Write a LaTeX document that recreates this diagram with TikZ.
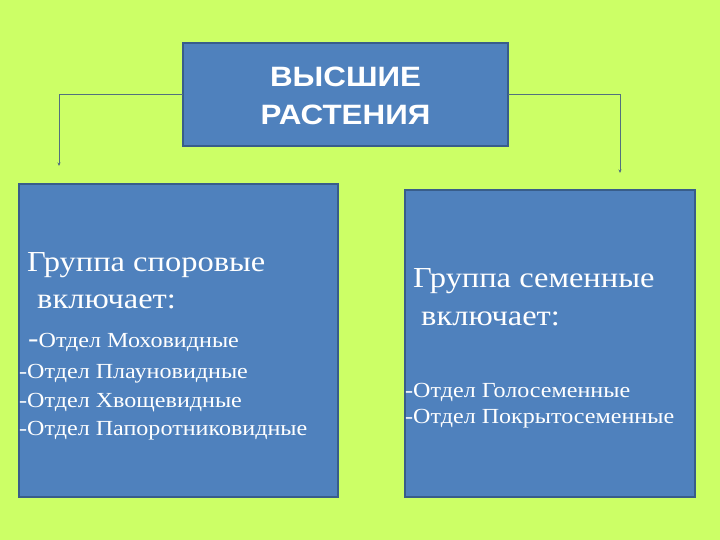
\documentclass[tikz,border=0pt]{standalone}
\usepackage{fontspec}
\setmainfont{Liberation Serif}
\newfontfamily\serifwide[FakeStretch=1.12]{Liberation Serif}
\newfontfamily\arialwide[FakeStretch=1.12]{Liberation Sans}
\usetikzlibrary{arrows.meta}
\definecolor{bgc}{HTML}{CCFF66}
\definecolor{boxfill}{HTML}{4F81BD}
\definecolor{boxline}{HTML}{385D8A}
\definecolor{conn}{HTML}{52707E}
\begin{document}
\begin{tikzpicture}[x=1pt,y=-1pt,
  box/.style={draw=boxline,line width=1.5pt,fill=boxfill},
  conline/.style={draw=conn,line width=0.9pt,-{Stealth[length=3.5pt,width=3pt]}},
  big/.style={anchor=base west,inner sep=0,text=white,font=\serifwide\fontsize{29}{32}\selectfont},
  small/.style={anchor=base west,inner sep=0,text=white,font=\serifwide\fontsize{21.5}{23}\selectfont}]
\fill[bgc] (0,0) rectangle (720,540);
\useasboundingbox (0,0) rectangle (720,540);
\draw[box] (183,43) rectangle (508,146);
\node[text=white,anchor=base,inner sep=0,font=\arialwide\bfseries\fontsize{28}{30}\selectfont] (t1) at (345.5,87) {ВЫСШИЕ};
\node[text=white,anchor=base,inner sep=0,font=\arialwide\bfseries\fontsize{28}{30}\selectfont] (t2) at (345.5,125) {РАСТЕНИЯ};
\draw[box] (19,184) rectangle (338,497);
\draw[box] (405,190) rectangle (695,497);
\coordinate (lstart) at (183,94);
\coordinate (lend) at (59,166);
\coordinate (rstart) at (508,94);
\coordinate (rend) at (620,173);
\draw[conline] (lstart) -| (lend);
\draw[conline] (rstart) -| (rend);
\node[big] (l1) at (27,271) {Группа споровые};
\node[big] (l2) at (37,308) {включает:};
\node[small] (l3) at (28,347) {{\fontsize{28}{28}\selectfont -}Отдел Моховидные};
\node[small] (l4) at (19,378) {-Отдел Плауновидные};
\node[small] (l5) at (19,407) {-Отдел Хвощевидные};
\node[small] (l6) at (19,435) {-Отдел Папоротниковидные};
\node[big] (r1) at (413,287) {Группа семенные};
\node[big] (r2) at (421,325) {включает:};
\node[small] (r3) at (405,397) {-Отдел Голосеменные};
\node[small] (r4) at (405,423) {-Отдел Покрытосеменные};
\end{tikzpicture}
\end{document}
